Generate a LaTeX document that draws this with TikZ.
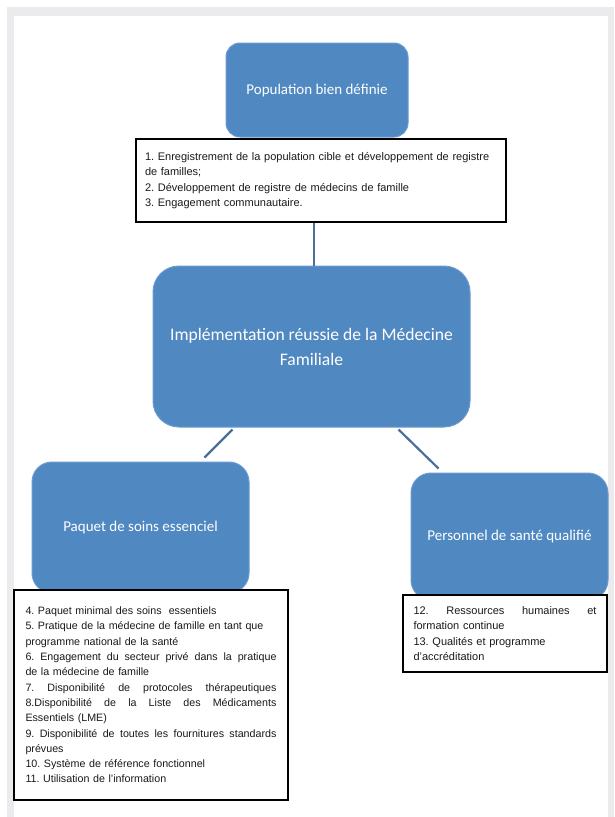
\documentclass[tikz,border=0pt]{standalone}
\usepackage{fontspec}
\setmainfont{Liberation Sans}
\newfontfamily\titlefont{Carlito}
\frenchspacing
\definecolor{boxblue}{HTML}{5088C2}
\definecolor{boxedge}{HTML}{6C9BD0}
\definecolor{linkcol}{HTML}{4A6F9C}
\definecolor{framegray}{HTML}{EBEBED}
\definecolor{listtext}{HTML}{1A1A1A}
\newcommand{\jline}[2]{\leavevmode\hbox to #1{#2}}
\tikzset{
  bluebox/.style={draw=boxedge, line width=1pt, fill=boxblue, text=white,
    align=center, inner sep=0pt, font=\titlefont\fontsize{15}{20}\selectfont},
  listbox/.style={draw=black, line width=1.4pt, fill=white, text=listtext,
    align=left, inner ysep=0pt, font=\frenchspacing\fontsize{11}{15.3}\selectfont},
  conn/.style={draw=linkcol, line width=2.2pt}
}
\begin{document}
\begin{tikzpicture}[x=1pt,y=-1pt]
\useasboundingbox (0,0) rectangle (614,817);
\fill[white] (0,0) rectangle (614,817);
\fill[framegray] (7,7) rectangle (614,817);
\fill[white] (14,16) rectangle (608,817);

% blue boxes
\node[bluebox, rounded corners=14pt, minimum width=182pt, minimum height=94pt] (pop) at (317,90) {Population bien définie};
\node[bluebox, rounded corners=26pt, minimum width=317pt, minimum height=161pt,
      font=\titlefont\fontsize{17.6}{25}\selectfont] (ctr) at (311.5,346.5)
      {Implémentation réussie de la Médecine\\Familiale};
\node[bluebox, rounded corners=20pt, minimum width=217pt, minimum height=131pt] (paq) at (140.5,527.5) {Paquet de soins essenciel};
\node[bluebox, rounded corners=20pt, minimum width=197pt, minimum height=127pt] (pers) at (509.5,536.5) {Personnel de santé qualifié};

% list boxes
\node[listbox, text width=352pt, inner xsep=9pt, minimum height=83pt] (tb1) at (321,180.5)
{1. Enregistrement de la population cible et développement de registre\\
de familles;\\
2. Développement de registre de médecins de famille\\
3. Engagement communautaire.};

\node[listbox, text width=251pt, inner xsep=11.5pt, minimum height=210pt,
      font=\frenchspacing\fontsize{10.7}{15.3}\selectfont] (tb2) at (151,695)
{4. Paquet minimal des soins~ essentiels\\
5. Pratique de la médecine de famille en tant que\\
programme national de la santé\\
\jline{251pt}{6.\hfill Engagement\hfill du\hfill secteur\hfill privé\hfill dans\hfill la\hfill pratique}\\
de la médecine de famille\\
\jline{251pt}{7.\hfill Disponibilité\hfill de\hfill protocoles\hfill thérapeutiques}\\
\jline{251pt}{8.Disponibilité\hfill de\hfill la\hfill Liste\hfill des\hfill Médicaments}\\
Essentiels (LME)\\
\jline{251pt}{9.\hfill Disponibilité\hfill de\hfill toutes\hfill les\hfill fournitures\hfill standards}\\
prévues\\
10. Système de référence fonctionnel\\
11. Utilisation de l'information};

\node[listbox, text width=183pt, inner xsep=10.5pt, minimum height=77pt] (tb3) at (505,633.5)
{\jline{183pt}{12.\hfill Ressources\hfill humaines\hfill et}\\
formation continue\\
13. Qualités et programme\\
d'accréditation};

% connectors
\draw[conn] (tb1.south -| 314,0) -- (ctr.north -| 314,0);
\draw[conn] ([xshift=80pt,yshift=-2pt]ctr.south west) -- ([xshift=173pt,yshift=4pt]paq.north west);
\draw[conn] ([xshift=-72pt,yshift=-2pt]ctr.south east) -- ([xshift=28pt,yshift=4pt]pers.north west);
\end{tikzpicture}
\end{document}
